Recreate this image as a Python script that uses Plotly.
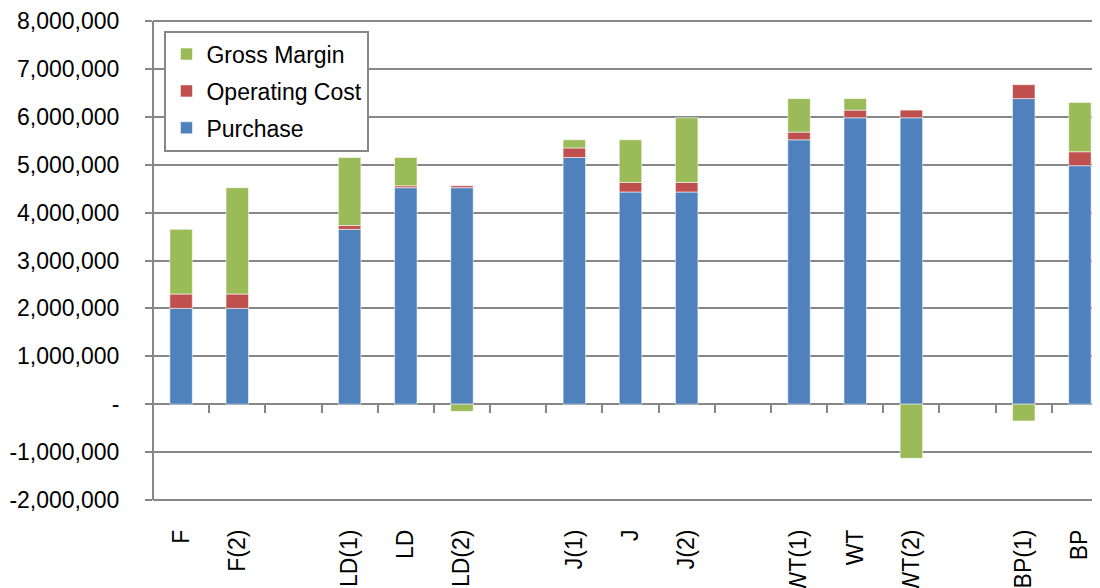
"""
Stacked cost breakdown chart: Purchase / Operating Cost / Gross Margin.
"""
import plotly.graph_objects as go

# empty strings are the gaps between groups
categories = ["F", "F(2)", "", "LD(1)", "LD", "LD(2)", "", "J(1)", "J", "J(2)", "",
              "WT(1)", "WT", "WT(2)", "", "BP(1)", "BP"]
purchase = [2000000, 2000000, None, 3650000, 4520000, 4520000, None, 5150000, 4430000,
            4430000, None, 5520000, 5980000, 5980000, None, 6380000, 4980000]
operating_cost = [300000, 300000, None, 80000, 40000, 40000, None, 200000, 200000,
                  200000, None, 160000, 160000, 160000, None, 290000, 290000]
gross_margin = [1350000, 2220000, None, 1420000, 590000, -150000, None, 170000, 890000,
                1350000, None, 700000, 240000, -1130000, None, -350000, 1030000]

y_ticks = list(range(-2000000, 8000001, 1000000))
y_ticktext = ["-" if v == 0 else f"{v:,}" for v in y_ticks]

COLORS = {"purchase": "#4F81BD", "opcost": "#C0504D", "margin": "#9BBB59",
          "grid": "#878787", "text": "#000000"}
FONT = "Liberation Sans, Arial, sans-serif"

x_pos = list(range(len(categories)))

fig = go.Figure()
# legendrank puts Gross Margin on top of the legend, like the stack
for name, vals, col, rank in [("Purchase", purchase, COLORS["purchase"], 3),
                              ("Operating Cost", operating_cost, COLORS["opcost"], 2),
                              ("Gross Margin", gross_margin, COLORS["margin"], 1)]:
    fig.add_trace(go.Bar(
        x=x_pos, y=vals, name=name, legendgroup=name, legendrank=rank,
        marker=dict(color=col, line=dict(color="rgba(255,255,255,0.55)", width=1)),
    ))

# invisible helper trace so the secondary axis (ticks on the zero line) is drawn
fig.add_trace(go.Scatter(
    x=x_pos, y=[0] * len(x_pos), xaxis="x2", mode="markers",
    marker=dict(opacity=0), showlegend=False, hoverinfo="skip",
))

# small padding so plotly keeps the first/last gridline (it drops lines at the very edge)
Y_PAD = 41500
y_lo, y_hi = -2000000 - Y_PAD, 8000000 + Y_PAD
zero_pos = (0 - y_lo) / (y_hi - y_lo)

fig.update_layout(
    width=1100, height=588,
    barmode="relative",
    bargap=0.6,
    margin=dict(l=145, r=0, t=8, b=94),
    paper_bgcolor="white",
    plot_bgcolor="white",
    font=dict(family=FONT, size=23, color=COLORS["text"]),
    xaxis=dict(
        range=[-0.5, len(categories) - 0.5],
        tickvals=x_pos, ticktext=categories,
        tickangle=-90, ticks="", showgrid=False, showline=False, zeroline=False,
        ticklabelstandoff=22,
    ),
    xaxis2=dict(
        overlaying="x", anchor="free", position=zero_pos, side="bottom",
        range=[-0.5, len(categories) - 0.5],
        tick0=0.5, dtick=1, ticks="outside", ticklen=8, tickwidth=2,
        tickcolor=COLORS["grid"], showticklabels=False, showgrid=False,
        showline=False, zeroline=False,
    ),
    yaxis=dict(
        range=[y_lo, y_hi],
        tickvals=y_ticks, ticktext=y_ticktext,
        showgrid=True, gridcolor=COLORS["grid"], gridwidth=2,
        showline=False,
        ticks="outside", ticklen=7, tickwidth=2, tickcolor=COLORS["grid"],
        zeroline=False, ticklabelstandoff=21, ticklabeloverflow="allow",
    ),
    shapes=[dict(type="line", xref="paper", yref="y", x0=0, x1=0,
                 y0=-2000000, y1=8000000,
                 line=dict(color=COLORS["grid"], width=2))],
    legend=dict(
        x=0.012, y=0.976, xanchor="left", yanchor="top",
        traceorder="grouped", tracegroupgap=4,
        bgcolor="white", bordercolor=COLORS["grid"], borderwidth=2,
        font=dict(family=FONT, size=23, color=COLORS["text"]),
    ),
    showlegend=True,
)

fig.write_html("out.html")
